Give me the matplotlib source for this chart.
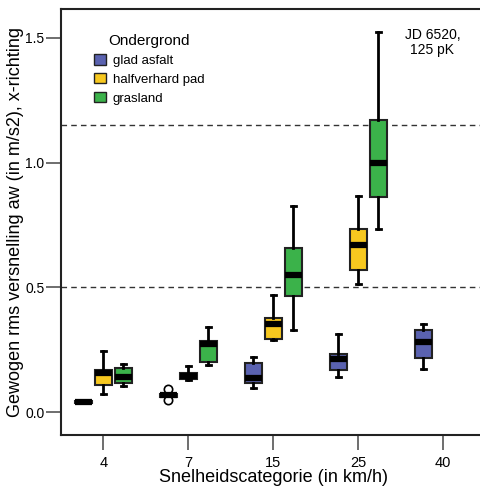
import matplotlib
matplotlib.use("Agg")
import matplotlib.pyplot as plt
from matplotlib.patches import Patch

plt.rcParams['font.family'] = ['Liberation Sans', 'DejaVu Sans']

categories = ['4', '7', '15', '25', '40']
surfaces = ['glad asfalt', 'halfverhard pad', 'grasland']
colors = ['#5a62b0', '#f7c81f', '#3bb24a']

# per surface: list of (category index, wlo, q1, med, q3, whi, outliers)
asfalt = [
    (0, 0.036, 0.037, 0.040, 0.043, 0.044, []),
    (1, 0.060, 0.062, 0.067, 0.072, 0.076, [0.093, 0.048]),
    (2, 0.097, 0.115, 0.136, 0.195, 0.221, []),
    (3, 0.139, 0.167, 0.212, 0.233, 0.312, []),
    (4, 0.173, 0.215, 0.280, 0.328, 0.353, []),
]
halfverhard = [
    (0, 0.073, 0.108, 0.157, 0.168, 0.245, []),
    (1, 0.127, 0.132, 0.146, 0.157, 0.184, []),
    (2, 0.288, 0.293, 0.352, 0.377, 0.471, []),
    (3, 0.513, 0.568, 0.668, 0.735, 0.865, []),
]
grasland = [
    (0, 0.104, 0.117, 0.141, 0.175, 0.192, []),
    (1, 0.188, 0.199, 0.271, 0.285, 0.341, []),
    (2, 0.327, 0.464, 0.548, 0.656, 0.825, []),
    (3, 0.733, 0.864, 1.000, 1.171, 1.525, []),
]
series = [asfalt, halfverhard, grasland]
offsets = [-0.235, 0.0, 0.235]
ref_lines = [0.5, 1.15]

fig = plt.figure(figsize=(4.81, 4.88), dpi=100)
ax = fig.add_axes([0.1268, 0.1086, 0.8825, 0.873])

for ref in ref_lines:
    ax.axhline(ref, color='#333333', lw=1, ls=(0, (4, 3)), zorder=1)

for s, data in enumerate(series):
    stats = []
    pos = []
    for (ci, wlo, q1, med, q3, whi, fl) in data:
        stats.append(dict(whislo=wlo, q1=q1, med=med, q3=q3, whishi=whi, fliers=fl))
        pos.append(ci + 1 + offsets[s])
    ax.bxp(stats, positions=pos, widths=0.2, patch_artist=True,
           boxprops=dict(facecolor=colors[s], edgecolor='#222222', lw=1.5),
           medianprops=dict(color='black', lw=4.5, solid_capstyle='butt'),
           whiskerprops=dict(color='black', lw=2),
           capprops=dict(color='black', lw=2),
           capwidths=0.06,
           flierprops=dict(marker='o', markerfacecolor='white', markeredgecolor='black',
                           markersize=6, mew=1.2),
           manage_ticks=False, zorder=3)

ax.set_xlim(0.5, 5.5)
ax.set_ylim(-0.092, 1.616)
ax.set_xticks(range(1, 6))
ax.set_xticklabels(categories)
ax.set_yticks([0.0, 0.5, 1.0, 1.5])
ax.set_yticklabels(['0.0', '0.5', '1.0', '1.5'])
ax.tick_params(direction='out', length=11, width=1.2, color='#555555',
               labelsize=10, pad=1)
ax.tick_params(axis='x', pad=4, labelsize=10.5)
for sp in ax.spines.values():
    sp.set_linewidth(1.5)
    sp.set_color('#222222')

ax.set_xlabel('Snelheidscategorie (in km/h)', fontsize=13)
ax.set_ylabel('Gewogen rms versnelling aw (in m/s2), x-richting', fontsize=13)
ax.xaxis.set_label_coords(0.5, -0.080)
ax.yaxis.set_label_coords(-0.086, 0.5)

handles = [Patch(facecolor=c, edgecolor='#222222', lw=1) for c in colors]
leg = ax.legend(handles, surfaces, title='Ondergrond', loc='upper left',
                bbox_to_anchor=(0.05, 0.97), frameon=False, fontsize=9.5,
                title_fontsize=11, handlelength=0.9, handleheight=0.9,
                handletextpad=0.5, labelspacing=0.45)

ax.text(0.875, 0.955, 'JD 6520,\n125 pK', transform=ax.transAxes, ha='center',
        va='top', fontsize=10, linespacing=1.1)

fig.savefig('out.png', dpi=100)
